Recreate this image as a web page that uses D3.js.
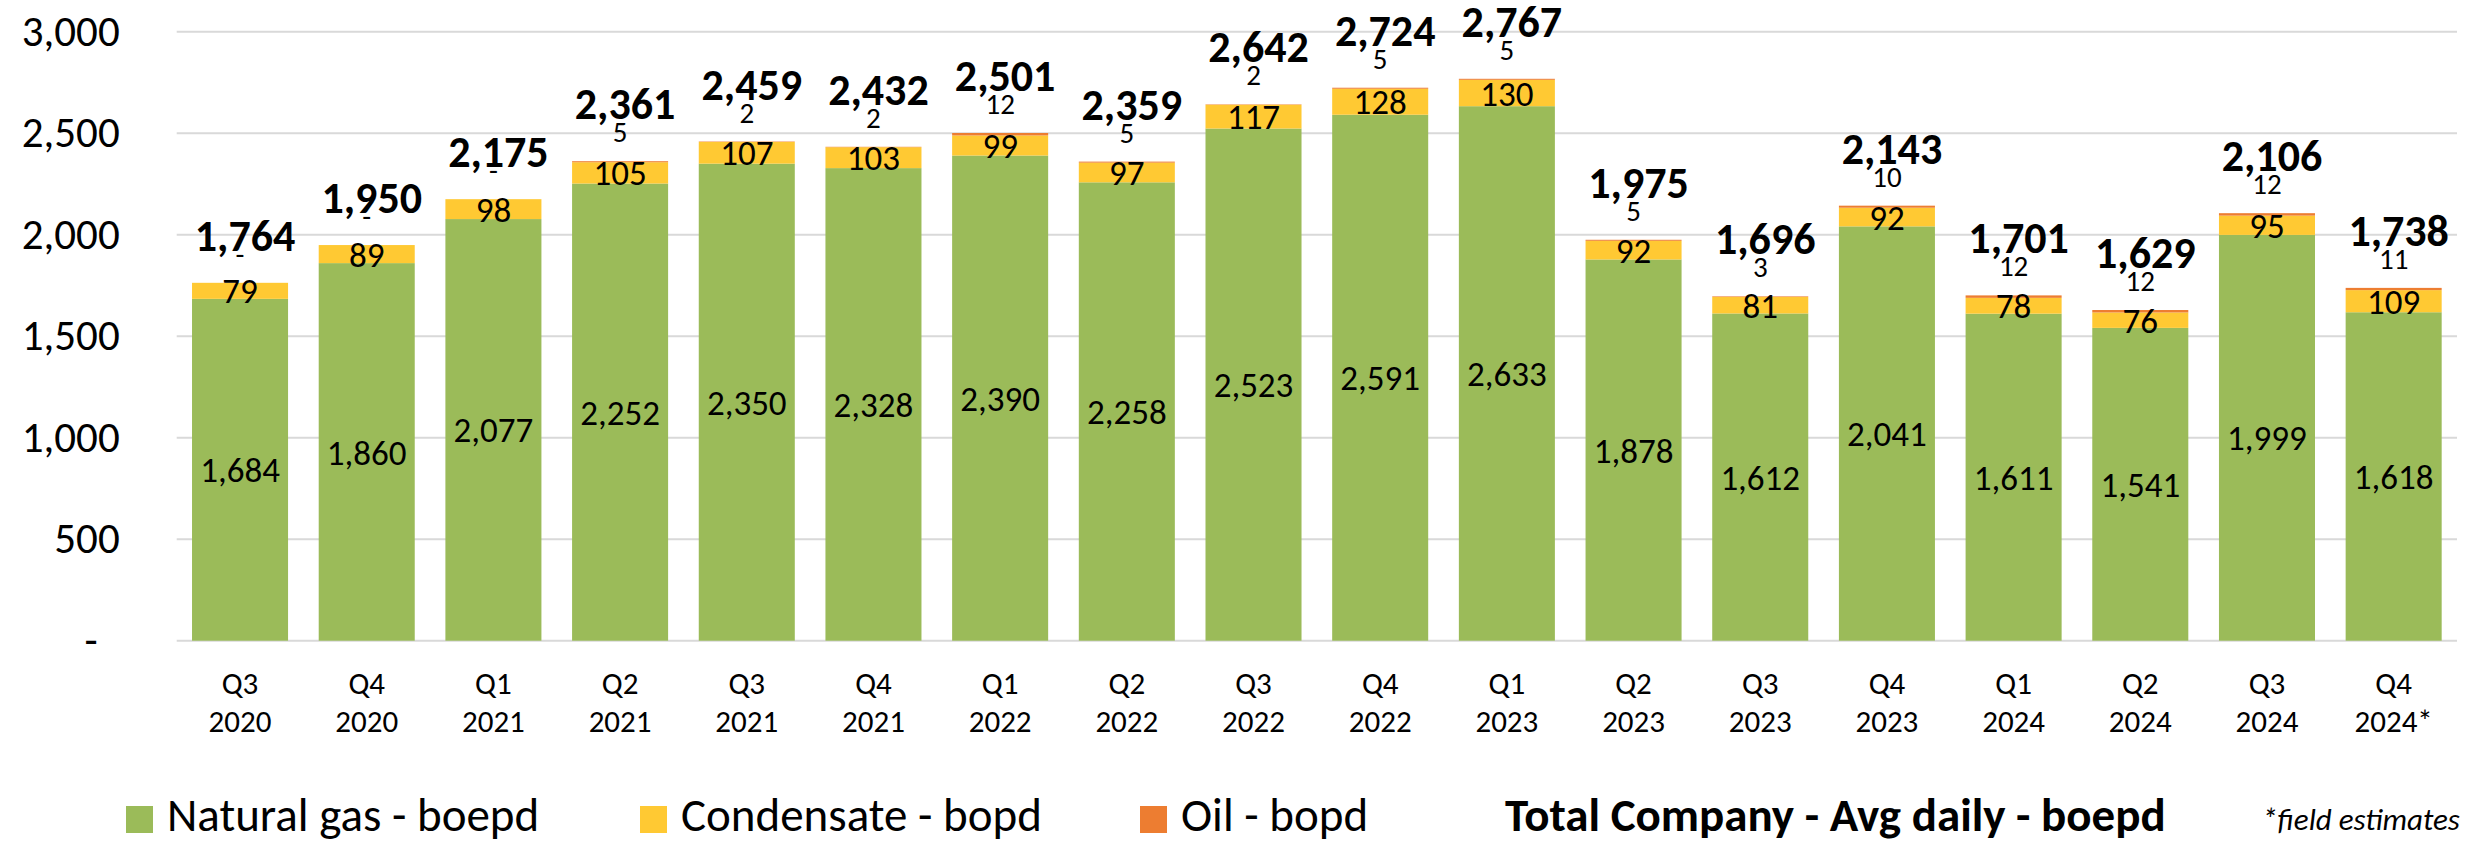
<!DOCTYPE html>
<html>
<head>
<meta charset="utf-8">
<script src="https://cdn.jsdelivr.net/npm/d3@7"></script>
<style>
  html, body { margin: 0; padding: 0; background: #fff; }
  svg { display: block; font-family: Carlito, Calibri, Lato, sans-serif; font-variant-numeric: tabular-nums; }
</style>
</head>
<body>
<div id="chart"></div>
<script>
// Data
const quarters = ["Q3", "Q4", "Q1", "Q2", "Q3", "Q4", "Q1", "Q2", "Q3", "Q4", "Q1", "Q2", "Q3", "Q4", "Q1", "Q2", "Q3", "Q4"];
const years = ["2020", "2020", "2021", "2021", "2021", "2021", "2022", "2022", "2022", "2022", "2023", "2023", "2023", "2023", "2024", "2024", "2024", "2024*"];
const gas = [1684, 1860, 2077, 2252, 2350, 2328, 2390, 2258, 2523, 2591, 2633, 1878, 1612, 2041, 1611, 1541, 1999, 1618];
const condensate = [79, 89, 98, 105, 107, 103, 99, 97, 117, 128, 130, 92, 81, 92, 78, 76, 95, 109];
const oil = [0, 0, 0, 5, 2, 2, 12, 5, 2, 5, 5, 5, 3, 10, 12, 12, 12, 11];
const totals = [1764, 1950, 2175, 2361, 2459, 2432, 2501, 2359, 2642, 2724, 2767, 1975, 1696, 2143, 1701, 1629, 2106, 1738];
const yTicks = [0, 500, 1000, 1500, 2000, 2500, 3000];
const seriesNames = ["Natural gas - boepd", "Condensate - bopd", "Oil - bopd"];

const W = 2476, H = 844;
const colors = ["#9BBB59", "#FFC933", "#ED7D31"];

const svg = d3.select("#chart").append("svg")
  .attr("width", W).attr("height", H);

const rows = quarters.map((q, i) => ({
  key: q + " " + years[i], q, year: years[i],
  gas: gas[i], condensate: condensate[i], oil: oil[i], total: totals[i]
}));

const x = d3.scaleBand()
  .domain(rows.map(d => d.key))
  .range([176.7, 2457])
  .paddingInner(0.242)
  .paddingOuter(0.121);

const y = d3.scaleLinear()
  .domain([0, 3000])
  .range([640.7, 31.7]);

// gridlines
svg.append("g")
  .selectAll("line")
  .data(yTicks)
  .join("line")
  .attr("x1", 176.7).attr("x2", 2457)
  .attr("y1", d => y(d)).attr("y2", d => y(d))
  .attr("stroke", "#D9D9D9")
  .attr("stroke-width", 2);

// y axis
const yAxis = d3.axisLeft(y)
  .tickValues(yTicks)
  .tickSize(0)
  .tickPadding(57)
  .tickFormat(d => d === 0 ? "-" : d3.format(",")(d));

const yg = svg.append("g")
  .attr("transform", "translate(176.7,0)")
  .call(yAxis);
yg.select(".domain").remove();
yg.selectAll("text")
  .attr("font-family", "Carlito, Calibri, Lato, sans-serif")
  .attr("font-size", 43)
  .attr("fill", "#000")
  .attr("dx", d => d === 0 ? -22 : 0);

// stacked bars
const stack = d3.stack().keys(["gas", "condensate", "oil"]);
const layers = stack(rows);

svg.append("g")
  .selectAll("g")
  .data(layers)
  .join("g")
  .attr("fill", (d, i) => colors[i])
  .selectAll("rect")
  .data(d => d)
  .join("rect")
  .attr("x", d => x(d.data.key))
  .attr("width", x.bandwidth())
  .attr("y", d => y(d[1]))
  .attr("height", d => y(d[0]) - y(d[1]));

const labels = svg.append("g").attr("fill", "#000").attr("text-anchor", "middle");
const cx = d => x(d.data.key) + x.bandwidth() / 2;

// gas labels (centred in segment)
labels.selectAll(".gas-lbl")
  .data(layers[0])
  .join("text")
  .attr("class", "gas-lbl")
  .attr("x", cx)
  .attr("y", d => (y(d[0]) + y(d[1])) / 2)
  .attr("dy", "0.36em")
  .attr("font-size", 35)
  .text(d => d3.format(",")(d.data.gas));

// condensate labels
labels.selectAll(".cond-lbl")
  .data(layers[1])
  .join("text")
  .attr("class", "cond-lbl")
  .attr("x", cx)
  .attr("y", d => (y(d[0]) + y(d[1])) / 2)
  .attr("dy", "0.36em")
  .attr("font-size", 35)
  .text(d => d3.format(",")(d.data.condensate));

// oil labels above bar
labels.selectAll(".oil-lbl")
  .data(layers[2])
  .join("text")
  .attr("class", "oil-lbl")
  .attr("x", cx)
  .attr("y", d => y(d[1]) - 19)
  .attr("font-size", 29)
  .text(d => d.data.oil === 0 ? "-" : d.data.oil);

// total labels
labels.selectAll(".tot-lbl")
  .data(layers[2])
  .join("text")
  .attr("class", "tot-lbl")
  .attr("x", d => cx(d) + 5)
  .attr("y", d => y(d[1]) - (d.data.oil === 0 ? 32 : 42))
  .attr("font-size", 44)
  .attr("font-weight", "bold")
  .text(d => d3.format(",")(d.data.total));

// x axis labels
const xl = svg.append("g").attr("text-anchor", "middle").attr("font-size", 31).attr("fill", "#000");
xl.selectAll(".q")
  .data(rows)
  .join("text")
  .attr("x", d => x(d.key) + x.bandwidth() / 2)
  .attr("y", 694)
  .text(d => d.q);
xl.selectAll(".yr")
  .data(rows)
  .join("text")
  .attr("x", d => x(d.key) + x.bandwidth() / 2)
  .attr("y", 732)
  .text(d => d.year);

// legend
const legendX = [126, 640, 1140];
const lg = svg.append("g");
seriesNames.forEach((name, i) => {
  lg.append("rect")
    .attr("x", legendX[i]).attr("y", 806)
    .attr("width", 27).attr("height", 27)
    .attr("fill", colors[i]);
  lg.append("text")
    .attr("x", legendX[i] + 41).attr("y", 831)
    .attr("font-size", 47)
    .text(name);
});
lg.append("text")
  .attr("x", 1505).attr("y", 831)
  .attr("font-size", 47)
  .attr("font-weight", "bold")
  .text("Total Company - Avg daily - boepd");
lg.append("text")
  .attr("x", 2262).attr("y", 830)
  .attr("font-size", 31)
  .attr("font-style", "italic")
  .text("*field estimates");
</script>
</body>
</html>
